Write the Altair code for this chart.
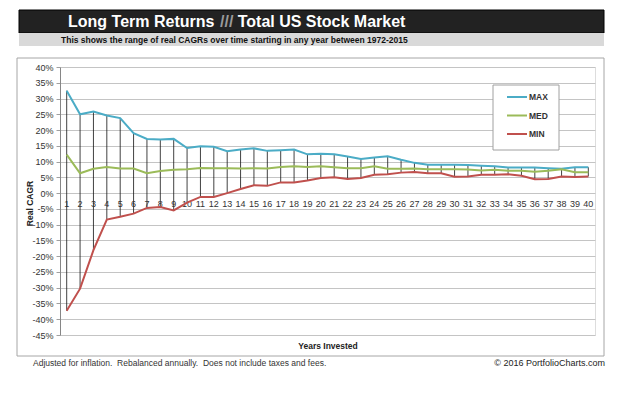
import altair as alt
import pandas as pd

years = list(range(1, 41))
max_vals = [32.5, 25.0, 25.9, 24.6, 23.8, 19.0, 17.2, 17.0, 17.2, 14.3,
            14.9, 14.7, 13.3, 13.8, 14.2, 13.4, 13.6, 13.8, 12.3, 12.5,
            12.3, 11.6, 10.8, 11.3, 11.7, 10.6, 9.6, 9.0, 9.0, 9.0,
            8.9, 8.7, 8.5, 8.1, 8.1, 8.1, 7.9, 7.7, 8.2, 8.2]
med_vals = [12.2, 6.3, 7.7, 8.3, 7.8, 7.8, 6.3, 7.0, 7.4, 7.6,
            8.0, 7.9, 7.9, 7.8, 7.9, 7.8, 8.3, 8.5, 8.3, 8.5,
            8.2, 7.9, 7.9, 8.5, 7.7, 7.7, 7.8, 7.6, 7.6, 7.6,
            7.5, 7.2, 7.4, 7.1, 7.1, 6.8, 7.1, 7.6, 6.6, 6.6]
min_vals = [-37.3, -30.3, -18.1, -8.4, -7.5, -6.5, -4.7, -4.4, -5.5, -3.0,
            -1.2, -1.2, 0.0, 1.3, 2.5, 2.3, 3.4, 3.4, 4.0, 4.8,
            5.0, 4.5, 4.8, 5.8, 6.0, 6.5, 6.7, 6.3, 6.3, 5.2,
            5.3, 5.8, 5.8, 6.0, 5.5, 4.4, 4.5, 5.3, 5.1, 5.3]
series_names = ["MAX", "MED", "MIN"]
series_colors = ["#4BACC6", "#9BBB59", "#C0504D"]
y_ticks = list(range(-45, 45, 5))

title_left = "Long Term Returns"
title_sep = "///"
title_right = "Total US Stock Market"
subtitle = "This shows the range of real CAGRs over time starting in any year between 1972-2015"
footer_left = "Adjusted for inflation.\u00a0 Rebalanced annually.\u00a0 Does not include taxes and fees."
footer_right = "\u00a9 2016 PortfolioCharts.com"
y_title = "Real CAGR"
x_title = "Years Invested"

wide = pd.DataFrame({"year": years, "MAX": max_vals, "MED": med_vals,
                     "MIN": min_vals, "zero": [0] * len(years)})
long = wide.melt("year", value_vars=series_names, var_name="series", value_name="value")

W, H = 535, 268
xscale = alt.Scale(domain=[0.5, 40.5], nice=False, zero=False)
yscale = alt.Scale(domain=[-45, 40], nice=False, zero=False)

x_axis = alt.Axis(title=x_title, labels=False, ticks=False, domain=False, grid=False,
                  titleFontSize=8.5, titleFontWeight="bold", titleColor="#222",
                  titlePadding=6)
y_axis = alt.Axis(values=y_ticks, labelExpr="datum.value + '%'", title=y_title,
                  grid=True, gridColor="#c4c4c4", gridWidth=1,
                  domainColor="#868686", tickColor="#a0a0a0", tickSize=4,
                  labelFontSize=9, labelColor="#333", labelPadding=3,
                  titleFontSize=8.5, titleFontWeight="bold", titleColor="#222",
                  titleX=-31, titleY=H / 2 + 2, titleAngle=270,
                  titleAlign="center", titleBaseline="middle")


def one(text):
    return pd.DataFrame({"t": [text]})


box = alt.Chart(one("")).mark_rect(filled=False, stroke="#a6a6a6", strokeWidth=1).encode(
    x=alt.value(-43), x2=alt.value(544), y=alt.value(-9), y2=alt.value(289))
banner = alt.Chart(one("")).mark_rect(fill="#222222", stroke="#000000", strokeWidth=1).encode(
    x=alt.value(-41), x2=alt.value(544), y=alt.value(-57), y2=alt.value(-34))
band = alt.Chart(one("")).mark_rect(fill="#d9d9d9").encode(
    x=alt.value(-41), x2=alt.value(544), y=alt.value(-34), y2=alt.value(-21))

t1 = alt.Chart(one(title_left)).mark_text(align="left", baseline="middle", fontSize=16,
                                          fontWeight="bold", color="white").encode(
    x=alt.value(8), y=alt.value(-45.5), text="t:N")
t2 = alt.Chart(one(title_sep)).mark_text(align="left", baseline="middle", fontSize=16,
                                         fontWeight="bold", color="#9a9a9a").encode(
    x=alt.value(160), y=alt.value(-45.5), text="t:N")
t3 = alt.Chart(one(title_right)).mark_text(align="left", baseline="middle", fontSize=16,
                                           fontWeight="bold", color="white").encode(
    x=alt.value(177.7), y=alt.value(-45.5), text="t:N")
st = alt.Chart(one(subtitle)).mark_text(align="left", baseline="middle", fontSize=8.5,
                                        fontWeight="bold", color="#111").encode(
    x=alt.value(1), y=alt.value(-27.5), text="t:N")
fl = alt.Chart(one(footer_left)).mark_text(align="left", baseline="middle", fontSize=8.5,
                                           color="#333").encode(
    x=alt.value(-27), y=alt.value(296), text="t:N")
fr = alt.Chart(one(footer_right)).mark_text(align="right", baseline="middle", fontSize=9,
                                            color="#222").encode(
    x=alt.value(545), y=alt.value(296), text="t:N")

legend_box = alt.Chart(one("")).mark_rect(fill="white", stroke="#a0a0a0", strokeWidth=1).encode(
    x=alt.value(433), x2=alt.value(499), y=alt.value(18), y2=alt.value(83))

rules = alt.Chart(wide).mark_rule(color="#111", strokeWidth=0.8).encode(
    x=alt.X("year:Q", scale=xscale, axis=x_axis),
    y=alt.Y("MAX:Q", scale=yscale, axis=y_axis),
    y2="MIN:Q")

xlabels = alt.Chart(wide).mark_text(baseline="middle", dy=11, fontSize=9, color="#333").encode(
    x=alt.X("year:Q", scale=xscale, axis=x_axis),
    y=alt.Y("zero:Q", scale=yscale, axis=y_axis),
    text="year:N")

lines = alt.Chart(long).mark_line(strokeWidth=2).encode(
    x=alt.X("year:Q", scale=xscale, axis=x_axis),
    y=alt.Y("value:Q", scale=yscale, axis=y_axis),
    color=alt.Color("series:N",
                    scale=alt.Scale(domain=series_names, range=series_colors),
                    legend=alt.Legend(title=None, orient="none", legendX=446, legendY=19,
                                      symbolType="stroke", symbolSize=400,
                                      symbolStrokeWidth=2, rowPadding=2.5, padding=0,
                                      labelFontSize=8.5, labelFontWeight="bold",
                                      labelColor="#333", labelOffset=1)))

chart = alt.layer(box, banner, band, t1, t2, t3, st, fl, fr, rules, xlabels, lines,
                  legend_box).properties(
    width=W, height=H,
    autosize=alt.AutoSizeParams(type="none"),
    padding={"left": 52, "top": 59, "right": 37, "bottom": 51},
).configure_view(stroke=None).configure(font="Liberation Sans")

chart.save("out.html", embed_options={"renderer": "svg", "actions": False})
